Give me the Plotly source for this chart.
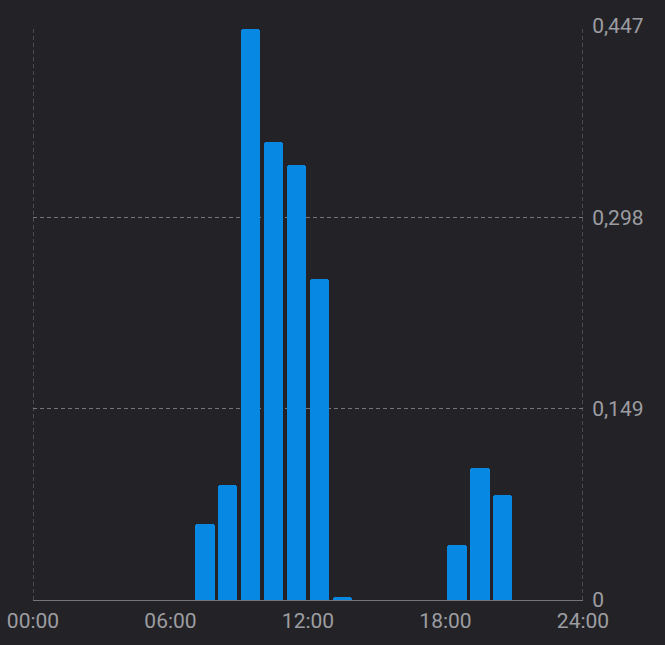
import plotly.graph_objects as go

hours = list(range(24))
values = [0, 0, 0, 0, 0, 0, 0, 0.0594, 0.0897, 0.445, 0.3568, 0.3389, 0.2497, 0.0026,
          0, 0, 0, 0, 0.0428, 0.1027, 0.0817, 0, 0, 0]
x_tickvals = [0, 6, 12, 18, 24]
x_ticktext = ["00:00", "06:00", "12:00", "18:00", "24:00"]
y_tickvals = [0, 0.149, 0.298, 0.447]
y_ticktext = ["0", "0,149", "0,298", "0,447"]

BG = "#232327"
GRID = "#75757a"
LABEL = "#9d9da1"
BAR = "#0788E2"

fig = go.Figure()
fig.add_trace(go.Bar(
    x=hours, y=values, offset=0.08, width=0.84,
    marker=dict(color=BAR, line=dict(width=0), cornerradius=3),
    hoverinfo="x+y",
))

for xv in [0, 24]:
    fig.add_shape(type="line", xref="x", yref="y", x0=xv, x1=xv, y0=0, y1=0.447,
                  line=dict(color=GRID, width=1, dash="4px,3px"), layer="below")

fig.update_layout(
    width=665, height=645,
    margin=dict(l=33, r=82, t=26, b=45, autoexpand=False),
    paper_bgcolor=BG, plot_bgcolor=BG,
    showlegend=False,
    font=dict(family="Roboto", size=21, color=LABEL),
    bargap=0,
)
fig.update_xaxes(
    range=[0, 24], tickvals=x_tickvals, ticktext=x_ticktext,
    showgrid=False, zeroline=False, automargin=False,
    showline=True, linecolor=GRID, linewidth=1,
    ticks="outside", ticklen=2, tickcolor="rgba(0,0,0,0)",
    tickfont=dict(family="Roboto", size=21, color=LABEL),
)
fig.update_yaxes(
    range=[0, 0.447], side="right", tickvals=y_tickvals, ticktext=y_ticktext,
    showgrid=True, gridcolor=GRID, griddash="4px,3px", gridwidth=1,
    zeroline=False, showline=False, automargin=False,
    ticks="outside", ticklen=4, tickcolor="rgba(0,0,0,0)",
    tickfont=dict(family="Roboto", size=21, color=LABEL),
)

fig.write_html(
    "out.html",
    config={"displayModeBar": False},
    post_script="document.body.style.margin='0';document.body.style.overflow='hidden';document.body.style.background='%s';" % BG,
)
